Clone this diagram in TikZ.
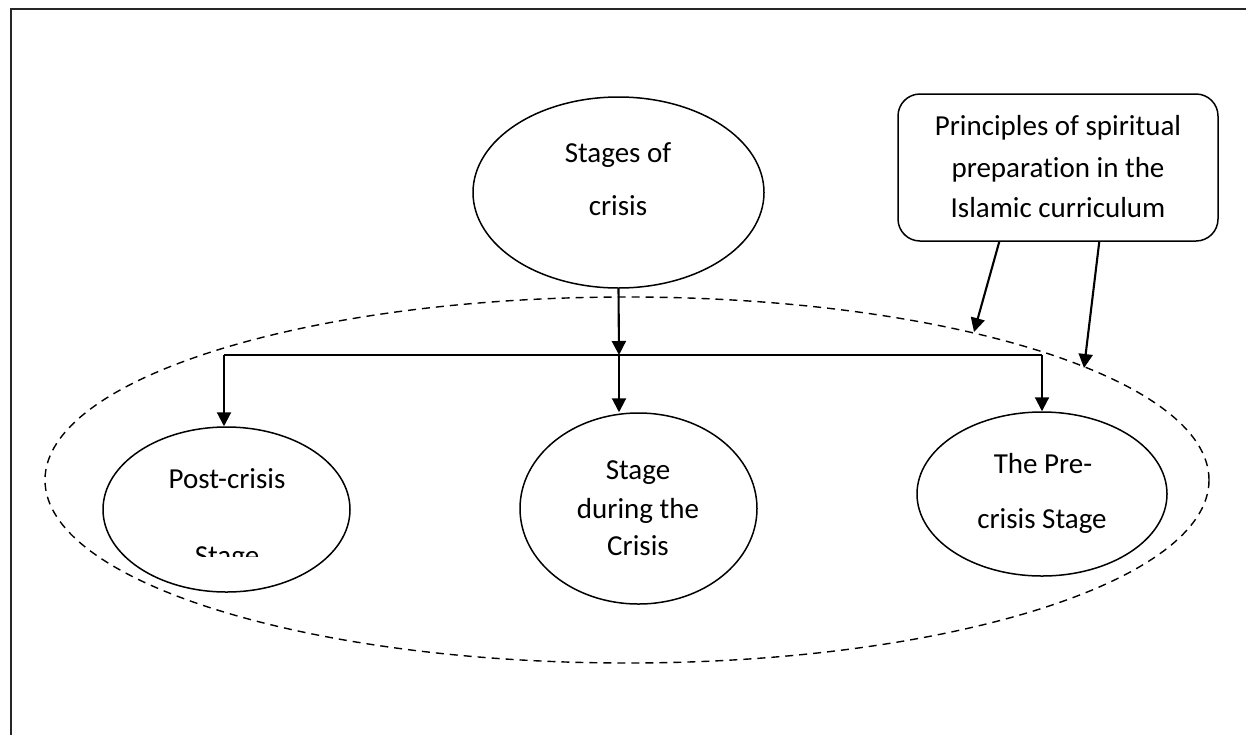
\documentclass[tikz,border=0pt]{standalone}
\usepackage{fontspec}
\setmainfont{Carlito}[Ligatures={NoCommon}]
\usetikzlibrary{shapes.geometric,arrows.meta}
\begin{document}
\begin{tikzpicture}[x=1pt,y=-1pt,
  oval/.style={draw,ellipse,line width=1.5pt,inner sep=0pt},
  txt/.style={font=\fontsize{29}{41}\selectfont,anchor=base,inner sep=0pt},
  conn/.style={line width=2.1pt,-{Triangle[length=14pt,width=14pt]}},
  plain/.style={line width=2.1pt},
  framestyle/.style={line width=2.4pt,black!85}]
\useasboundingbox (0,0) rectangle (1246,734);
% frame
\draw[framestyle] (11,760) -- (11,9) -- (1270,9);
% dashed zone
\node[draw,ellipse,dash pattern=on 8pt off 6pt,line width=1.4pt,inner sep=0pt,
      minimum width=1164pt,minimum height=366pt] (zone) at (627,480) {};
% nodes
\node[oval,minimum width=291pt,minimum height=191pt] (top) at (618.5,192.5) {};
\node[oval,minimum width=247pt,minimum height=165pt] (post) at (226.5,509.5) {};
\node[oval,minimum width=237pt,minimum height=191pt] (during) at (638.5,508.5) {};
\node[oval,minimum width=250pt,minimum height=164pt] (pre) at (1042,494) {};
\node[draw,rounded corners=22pt,line width=1.5pt,inner sep=0pt,
      minimum width=320pt,minimum height=147pt] (box) at (1058,167.5) {};
% texts
\node[txt] (t1) at (618,162) {Stages of};
\node[txt] (t2) at (618,215) {crisis};
\node[txt] (t3) at (227,488) {Post-crisis};
\begin{scope}
  \clip (100,400) rectangle (360,556);
  \node[txt] (t4) at (227,565) {Stage};
\end{scope}
\node[txt] (t5) at (638,479) {Stage};
\node[txt] (t6) at (638,518) {during the};
\node[txt] (t7) at (638,555) {Crisis};
\node[txt] (t8) at (1043,473) {The Pre-};
\node[txt] (t9) at (1042,528) {crisis Stage};
\node[txt] (t10) at (1058,135) {Principles of spiritual};
\node[txt] (t11) at (1058,177) {preparation in the};
\node[txt] (t12) at (1058,217) {Islamic curriculum};
% connectors
\coordinate (jL) at (224,355);
\coordinate (jM) at (619,355);
\coordinate (jR) at (1042,355);
\draw[conn] (top.south) -- (jM);
\draw[plain] (jL) -- (jR);
\draw[conn] (jL) -- (post.north -| jL);
\draw[conn] (jM) -- (during.north -| jM);
\draw[conn] (jR) -- (pre.north -| jR);
\coordinate (b1) at ([xshift=102pt]box.south west);
\coordinate (b2) at ([xshift=202pt]box.south west);
\coordinate (a1) at (974,332);
\coordinate (a2) at (1084,368);
\draw[conn] (b1) -- (a1);
\draw[conn] (b2) -- (a2);
\end{tikzpicture}
\end{document}
